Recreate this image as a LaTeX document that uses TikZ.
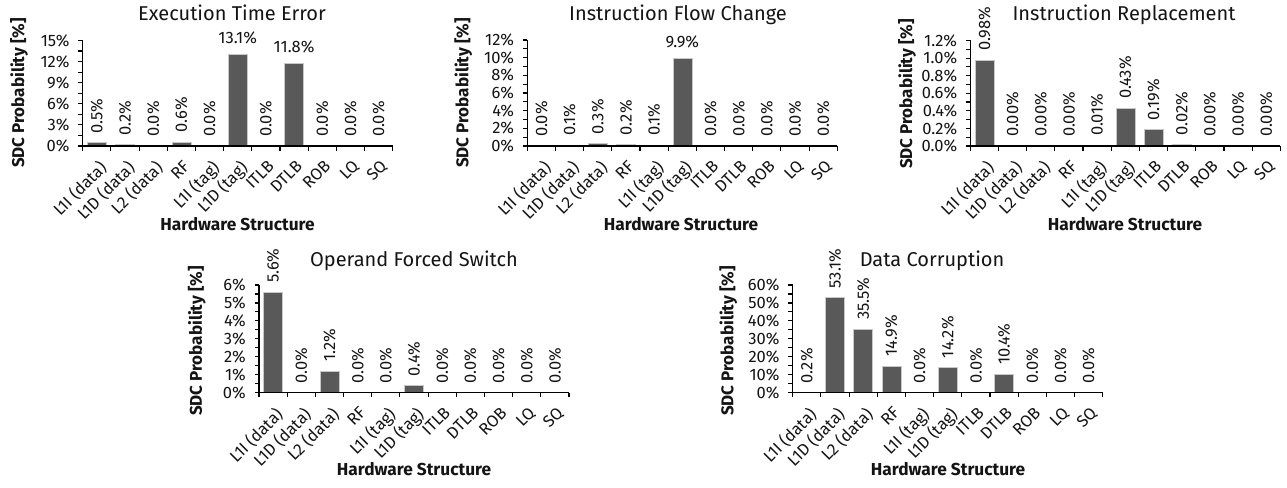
\documentclass[tikz,border=0pt]{standalone}
\usepackage{fontspec}
\setmainfont{Fira Sans}
\definecolor{barfill}{RGB}{89,89,89}
\definecolor{baredge}{RGB}{200,200,200}
\definecolor{txt}{RGB}{20,20,20}
\tikzset{
  axisline/.style={line width=1.1pt, draw=black},
  barbox/.style={fill=barfill, draw=baredge, line width=0.5pt},
  ticklab/.style={anchor=east, inner sep=0pt, text=txt, font=\fontsize{16.5}{16.5}\selectfont},
  vallab/.style={rotate=90, anchor=west, inner sep=0pt, text=txt, font=\fontsize{16.5}{16.5}\selectfont},
  hvallab/.style={anchor=base, inner sep=0pt, text=txt, font=\fontsize{16.5}{16.5}\selectfont},
  catlab/.style={rotate=45, anchor=north east, inner sep=0pt, text=txt, font=\fontsize{16.5}{16.5}\selectfont},
  titlelab/.style={anchor=base, inner sep=0pt, text=txt, font=\fontsize{20}{20}\selectfont},
  ylab/.style={rotate=90, inner sep=0pt, text=txt, font=\bfseries\fontsize{17}{17}\selectfont},
  xlab/.style={anchor=base, inner sep=0pt, text=txt, font=\bfseries\fontsize{17.3}{17.3}\selectfont},
}
% #1 x0, #2 y0, #3 H, #4 ymax, #5 N major, #6 tick labels, #7 bars v/t/m, #8 name
\newcommand{\barplot}[8]{%
\begin{scope}[shift={(#1,#2)}]
  \foreach \v/\t/\m [count=\k from 0] in {#7} {
    \pgfmathsetmacro\cx{(\k+0.5)*310/11}
    \pgfmathsetmacro\bh{\v*#3/#4}
    \ifdim\bh pt>0.001pt \draw[barbox] (\cx-9.5,0) rectangle (\cx+9.5,-\bh); \fi
    \ifnum\m=1
      \node[vallab] (#8-v\k) at (\cx,-\bh-9) {\t};
    \else
      \node[hvallab] (#8-v\k) at (\cx,-\bh-10.7) {\t};
    \fi
  }
  \draw[axisline] (0,-#3) -- (0,0) -- (310,0);
  \foreach \k in {0,...,11} \draw[axisline] ({\k*310/11},0) -- ++(0,4.5);
  \foreach \tl [count=\j from 0] in {#6} {
    \draw[axisline] (0,{-\j*#3/#5}) -- ++(-4.5,0);
    \node[ticklab] (#8-t\j) at (-13,{-\j*#3/#5}) {\tl};
  }
  \foreach \j in {1,...,#5} \draw[axisline] (0,{-(\j-0.5)*#3/#5}) -- ++(-4.5,0);
  \foreach \c [count=\k from 0] in {{L1I (data)},{L1D (data)},{L2 (data)},{RF},{L1I (tag)},{L1D (tag)},{ITLB},{DTLB},{ROB},{LQ},{SQ}}
    \node[catlab] (#8-c\k) at ({(\k+0.5)*310/11+1},13) {\c};
\end{scope}}
\begin{document}
\begin{tikzpicture}[x=1pt,y=-1pt]
\fill[white] (0,0) rectangle (1287,487);
\useasboundingbox (0,0) rectangle (1287,487);

% Chart 1
\barplot{82.7}{146}{105.5}{15}{5}{0\%,3\%,6\%,9\%,12\%,15\%}
 {0.5/0.5\%/1,0.2/0.2\%/1,0/0.0\%/1,0.6/0.6\%/1,0/0.0\%/1,13.1/13.1\%/0,0/0.0\%/1,11.8/11.8\%/0,0/0.0\%/1,0/0.0\%/1,0/0.0\%/1}{a}
\node[titlelab] (a-title) at (232,20.7) {Execution Time Error};
\node[ylab] (a-ylab) at (19,93) {SDC Probability [\%]};
\node[xlab] (a-xlab) at (237.5,230) {Hardware Structure};

% Chart 2
\barplot{527.3}{146}{106}{12}{6}{0\%,2\%,4\%,6\%,8\%,10\%,12\%}
 {0/0.0\%/1,0.1/0.1\%/1,0.3/0.3\%/1,0.2/0.2\%/1,0.1/0.1\%/1,9.9/9.9\%/0,0/0.0\%/1,0/0.0\%/1,0/0.0\%/1,0/0.0\%/1,0/0.0\%/1}{b}
\node[titlelab] (b-title) at (678,20.7) {Instruction Flow Change};
\node[ylab] (b-ylab) at (463.3,93) {SDC Probability [\%]};
\node[xlab] (b-xlab) at (681,230) {Hardware Structure};

% Chart 3
\barplot{970.3}{146}{105.5}{1.2}{6}{0.0\%,0.2\%,0.4\%,0.6\%,0.8\%,1.0\%,1.2\%}
 {0.98/0.98\%/1,0/0.00\%/1,0/0.00\%/1,0/0.00\%/1,0.01/0.01\%/1,0.43/0.43\%/1,0.19/0.19\%/1,0.02/0.02\%/1,0/0.00\%/1,0/0.00\%/1,0/0.00\%/1}{c}
\node[titlelab] (c-title) at (1124,20.7) {Instruction Replacement};
\node[ylab] (c-ylab) at (907,94) {SDC Probability [\%]};
\node[xlab] (c-xlab) at (1125,230) {Hardware Structure};

% Chart 4
\barplot{259}{392.7}{107.7}{6}{6}{0\%,1\%,2\%,3\%,4\%,5\%,6\%}
 {5.6/5.6\%/1,0/0.0\%/1,1.2/1.2\%/1,0/0.0\%/1,0/0.0\%/1,0.4/0.4\%/1,0/0.0\%/1,0/0.0\%/1,0/0.0\%/1,0/0.0\%/1,0/0.0\%/1}{d}
\node[titlelab] (d-title) at (414,266) {Operand Forced Switch};
\node[ylab] (d-ylab) at (196.7,341) {SDC Probability [\%]};
\node[xlab] (d-xlab) at (414,475) {Hardware Structure};

% Chart 5
\barplot{792.7}{392.7}{107.7}{60}{6}{0\%,10\%,20\%,30\%,40\%,50\%,60\%}
 {0.2/0.2\%/1,53.1/53.1\%/1,35.5/35.5\%/1,14.9/14.9\%/1,0/0.0\%/1,14.2/14.2\%/1,0/0.0\%/1,10.4/10.4\%/1,0/0.0\%/1,0/0.0\%/1,0/0.0\%/1}{e}
\node[titlelab] (e-title) at (932,266) {Data Corruption};
\node[ylab] (e-ylab) at (728.3,341) {SDC Probability [\%]};
\node[xlab] (e-xlab) at (948,475) {Hardware Structure};
\end{tikzpicture}
\end{document}
